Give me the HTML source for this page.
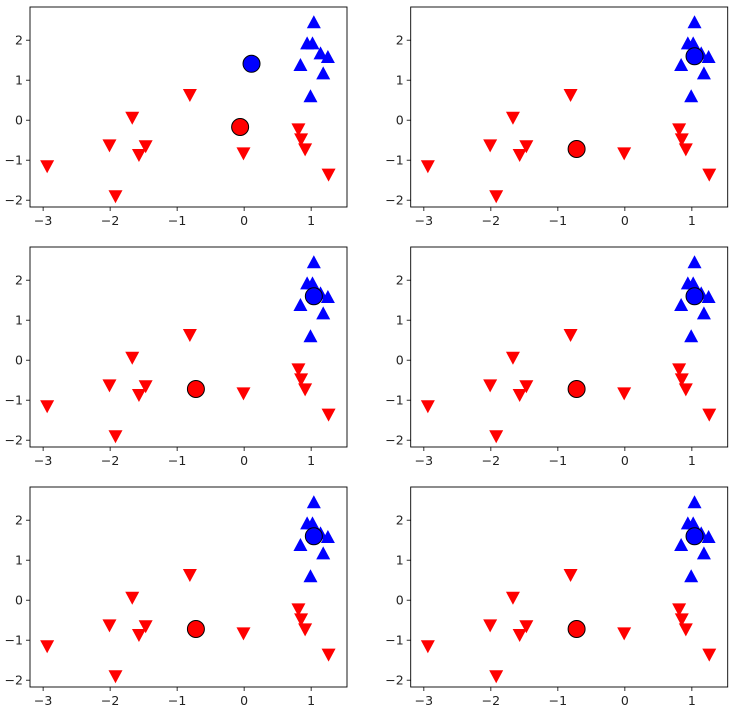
<!DOCTYPE html>
<html><head><meta charset="utf-8"><style>
body{margin:0;background:#fff}
svg{display:block;font-family:"DejaVu Sans","Liberation Sans",sans-serif}
</style></head><body>
<svg id="chart" width="737" height="716"></svg>
<script>
const redX=[-2.94,-1.92,-2.01,-1.67,-1.57,-1.47,-0.81,-0.01,0.81,0.85,0.91,1.26];
const redY=[-1.15,-1.9,-0.63,0.06,-0.87,-0.65,0.63,-0.83,-0.23,-0.48,-0.73,-1.36];
const blueX=[1.04,0.94,1.02,1.14,1.25,0.84,1.18,0.99];
const blueY=[2.45,1.92,1.92,1.67,1.58,1.38,1.17,0.6];
const centerRedX=[-0.06,-0.72,-0.72,-0.72,-0.72,-0.72];
const centerRedY=[-0.17,-0.72,-0.72,-0.72,-0.72,-0.72];
const centerBlueX=[0.11,1.04,1.04,1.04,1.04,1.04];
const centerBlueY=[1.41,1.6,1.6,1.6,1.6,1.6];
const xTicks=[-3,-2,-1,0,1];
const yTicks=[-2,-1,0,1,2];
const xTickLabels=["\u22123","\u22122","\u22121","0","1"];
const yTickLabels=["\u22122","\u22121","0","1","2"];

const NS="http://www.w3.org/2000/svg";
const svg=document.getElementById('chart');
function mk(tag,attrs,parent){const e=document.createElementNS(NS,tag);for(const k in attrs)e.setAttribute(k,attrs[k]);(parent||svg).appendChild(e);return e;}
const W=317,H=200,XMIN=-3.196,XMAX=1.535,YMIN=-2.17,YMAX=2.83;
const lefts=[30,410.7],tops=[7,247,487];
for(let p=0;p<6;p++){
  const L=lefts[p%2],T=tops[Math.floor(p/2)];
  const sx=v=>L+(v-XMIN)/(XMAX-XMIN)*W;
  const sy=v=>T+H-(v-YMIN)/(YMAX-YMIN)*H;
  const g=mk('g',{});
  
  
  xTicks.forEach((t,i)=>{
    const x=sx(t);
    mk('line',{x1:x,x2:x,y1:T+H,y2:T+H+4,stroke:'#000','stroke-width':0.8},g);
    const tx=mk('text',{x:x,y:T+H+18,'font-size':12.5,'text-anchor':'middle',fill:'#222'},g);
    tx.textContent=xTickLabels[i];
    
    
  });
  yTicks.forEach((t,i)=>{
    const y=sy(t);
    mk('line',{x1:L-4,x2:L,y1:y,y2:y,stroke:'#000','stroke-width':0.8},g);
    const tx=mk('text',{x:L-7,y:y+4.5,'font-size':12.5,'text-anchor':'end',fill:'#222'},g);
    tx.textContent=yTickLabels[i];
    
    
  });
  redX.forEach((v,i)=>{
    const x=sx(v),y=sy(redY[i]);
    const m=mk('polygon',{points:`${x-7},${y-6} ${x+7},${y-6} ${x},${y+7}`,fill:'#ff0000'},g);
    
    
  });
  blueX.forEach((v,i)=>{
    const x=sx(v),y=sy(blueY[i]);
    const m=mk('polygon',{points:`${x-7},${y+6} ${x+7},${y+6} ${x},${y-7}`,fill:'#0000ff'},g);
    
    
  });
  const cb=mk('circle',{cx:sx(centerBlueX[p]),cy:sy(centerBlueY[p]),r:8.5,fill:'#0000ff',stroke:'#000','stroke-width':1},g);
  
  
  const cr=mk('circle',{cx:sx(centerRedX[p]),cy:sy(centerRedY[p]),r:8.5,fill:'#ff0000',stroke:'#000','stroke-width':1},g);
  
  
  const fr=mk('rect',{x:L,y:T,width:W,height:H,fill:'none',stroke:'#000','stroke-width':0.9},g);
  
  
}
</script>
</body></html>
